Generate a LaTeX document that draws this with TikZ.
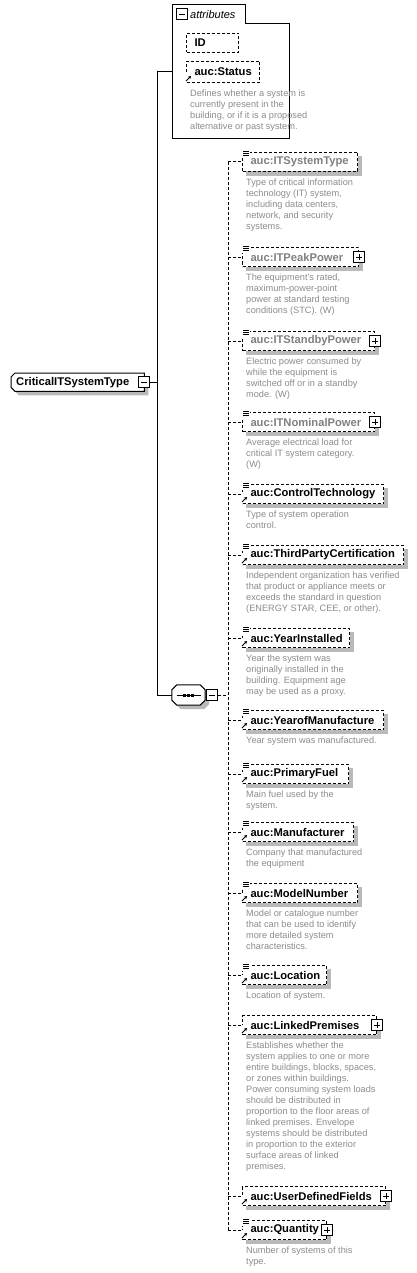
\documentclass[tikz,border=0pt]{standalone}
\usepackage{fontspec}
\setmainfont{Liberation Sans}
\usepackage{tikz}
\usetikzlibrary{arrows.meta,positioning,calc,backgrounds}
\hyphenpenalty=10000
\exhyphenpenalty=10000
\definecolor{shadowgray}{RGB}{185,185,185}
\definecolor{descgray}{RGB}{140,140,140}
\definecolor{namegray}{RGB}{128,128,128}
\tikzset{
  elem/.style={draw, dash pattern=on 3pt off 2pt, line width=1pt, fill=white,
               anchor=north west, minimum height=19pt, inner xsep=8pt, inner ysep=0pt,
               align=left, font=\fontsize{11.2}{13}\selectfont\bfseries},
  local/.style={elem, text=namegray},
  desc/.style={align=left, inner sep=0pt, anchor=north west, text=descgray,
               font=\fontsize{9.2}{11}\selectfont},
  rootbox/.style={anchor=north west, inner xsep=5pt, inner ysep=0pt, align=left,
               font=\fontsize{11.2}{13}\selectfont\bfseries},
  seqbox/.style={inner sep=0pt},
  dropfill/.style={fill=shadowgray},
  group/.style={draw, line width=1pt, fill=white, anchor=north west, inner sep=0pt},
  tab/.style={fill=white, inner sep=0pt},
  minusbox/.style={draw, line width=1pt, fill=white, minimum size=11pt, inner sep=0pt,
               path picture={\draw[line width=1pt] ([xshift=2.5pt]path picture bounding box.west)
                 -- ([xshift=-2.5pt]path picture bounding box.east);}},
  plusbox/.style={draw, line width=1pt, fill=white, minimum size=11pt, inner sep=0pt,
               path picture={\draw[line width=1pt] ([xshift=2.5pt]path picture bounding box.west)
                 -- ([xshift=-2.5pt]path picture bounding box.east)
                 ([yshift=-2.5pt]path picture bounding box.north)
                 -- ([yshift=2.5pt]path picture bounding box.south);}},
  conn/.style={line width=1pt},
  dconn/.style={line width=1pt, dash pattern=on 3pt off 2pt}
}

\begin{document}
\begin{tikzpicture}[x=1pt,y=-1pt]
  \path[use as bounding box] (0,0) rectangle (417,1273);

  % attributes
  \node[group, minimum width=117pt, minimum height=115pt] (attrs) at (172,23) {};
  \node[tab, anchor=south west, minimum width=73pt, minimum height=19pt] (attrtab) at ([yshift=-1pt]attrs.north west) {};
  \draw[conn] (attrtab.south west) |- (attrtab.north east) -- (attrtab.south east);
  \node[minusbox, right=4pt of attrtab.west] (attrminus) {};
  \node[right=2pt of attrminus, inner sep=0pt, font=\fontsize{11}{13}\selectfont\itshape] (attrlabel) {attributes};
  \node[elem, text width=36pt] (id) at (186,33) {ID};
  \node[elem, text width=57pt, minimum height=21pt] (status) at (186,61) {auc:Status};
  \node[desc, below right=7pt and 4pt of status.south west] (statusdesc)
    {Defines whether a system is\\currently present in the\\building, or if it is a proposed\\alternative or past system.};

  % root and sequence
  \node[rootbox, text width=123pt, minimum height=18pt] (root) at (11,373) {CriticalITSystemType};
  \node[minusbox] (rootminus) at (root.east) {};
  \node[seqbox, minimum width=33pt, minimum height=20pt] (seq) at (188.5,695) {};
  \node[minusbox, right=1pt of seq.east] (seqminus) {};

  % child elements
  \node[local, text width=99pt] (systype) at (242,152) {auc:ITSystemType};
  \node[desc, below right=7pt and 4pt of systype.south west] (systypedesc)
    {Type of critical information\\technology (IT) system,\\including data centers,\\network, and security\\systems.};
  \node[local, text width=100pt] (peak) at (242,247) {auc:ITPeakPower};
  \node[desc, below right=7pt and 4pt of peak.south west] (peakdesc)
    {The equipment's rated,\\maximum-power-point\\power at standard testing\\conditions (STC). (W)};
  \node[local, text width=116pt] (standby) at (242,331) {auc:ITStandbyPower};
  \node[desc, below right=7pt and 4pt of standby.south west] (standbydesc)
    {Electric power consumed by\\while the equipment is\\switched off or in a standby\\mode. (W)};
  \node[local, text width=116pt] (nominal) at (242,412) {auc:ITNominalPower};
  \node[desc, below right=7pt and 4pt of nominal.south west] (nominaldesc)
    {Average electrical load for\\critical IT system category.\\(W)};
  \node[elem, text width=125pt] (control) at (242,484) {auc:ControlTechnology};
  \node[desc, below right=7pt and 4pt of control.south west] (controldesc)
    {Type of system operation\\control.};
  \node[elem, text width=145pt] (third) at (242,545) {auc:ThirdPartyCertification};
  \node[desc, below right=7pt and 4pt of third.south west] (thirddesc)
    {Independent organization has verified\\that product or appliance meets or\\exceeds the standard in question\\(ENERGY STAR, CEE, or other).};
  \node[elem, text width=91pt] (yearinst) at (242,628) {auc:YearInstalled};
  \node[desc, below right=7pt and 4pt of yearinst.south west] (yearinstdesc)
    {Year the system was\\originally installed in the\\building. Equipment age\\may be used as a proxy.};
  \node[elem, text width=125pt] (yearmanuf) at (242,710) {auc:YearofManufacture};
  \node[desc, below right=7pt and 4pt of yearmanuf.south west] (yearmanufdesc)
    {Year system was manufactured.};
  \node[elem, text width=90pt] (fuel) at (242,764) {auc:PrimaryFuel};
  \node[desc, below right=7pt and 4pt of fuel.south west] (fueldesc)
    {Main fuel used by the\\system.};
  \node[elem, text width=95pt] (manuf) at (242,822) {auc:Manufacturer};
  \node[desc, below right=7pt and 4pt of manuf.south west] (manufdesc)
    {Company that manufactured\\the equipment};
  \node[elem, text width=99pt] (model) at (242,883) {auc:ModelNumber};
  \node[desc, below right=7pt and 4pt of model.south west] (modeldesc)
    {Model or catalogue number\\that can be used to identify\\more detailed system\\characteristics.};
  \node[elem, text width=68pt] (location) at (242,965) {auc:Location};
  \node[desc, below right=7pt and 4pt of location.south west] (locationdesc)
    {Location of system.};
  \node[elem, text width=118pt] (linked) at (242,1015) {auc:LinkedPremises};
  \node[desc, below right=7pt and 4pt of linked.south west] (linkeddesc)
    {Establishes whether the\\system applies to one or more\\entire buildings, blocks, spaces,\\or zones within buildings.\\Power consuming system loads\\should be distributed in\\proportion to the floor areas of\\linked premises. Envelope\\systems should be distributed\\in proportion to the exterior\\surface areas of linked\\premises.};
  \node[elem, text width=127pt] (userdef) at (242,1186) {auc:UserDefinedFields};
  \node[elem, text width=68pt] (quantity) at (242,1220) {auc:Quantity};
  \node[desc, below right=7pt and 4pt of quantity.south west] (quantitydesc)
    {Number of systems of this\\type.};

  % plus boxes
  \foreach \n in {peak,standby,nominal,linked,userdef,quantity}
    \node[plusbox] (\n-plus) at (\n.east) {};

  % icons
  \foreach \n in {systype,peak,standby,nominal,control,third,yearinst,yearmanuf,fuel,manuf,model,location,quantity} {
    \fill[white] ([xshift=-1pt,yshift=2pt]\n.north west) rectangle ++(9,8);
    \foreach \dy in {1,-1,-3}
      \draw[line width=0.8pt] ([xshift=1pt,yshift=\dy pt]\n.north west) -- ++(6,0);
  }
  \foreach \n in {status,control,third,yearinst,yearmanuf,fuel,manuf,model,location,linked,userdef,quantity} {
    \fill[white] ([xshift=-1pt,yshift=1pt]\n.south west) rectangle ++(8,-9);
    \draw[line width=1pt, -{Stealth[length=3pt,width=3.5pt]}] ([yshift=2pt]\n.south west) -- ++(5,-5);
  }

  % connectors
  \coordinate (trunk) at (157,0);
  \coordinate (bus) at (228,0);
  \draw[conn] (rootminus.east) -- (trunk |- rootminus.east);
  \draw[conn] (attrs.west |- status.west) -| (trunk |- seq.west) -- (seq.west);
  \draw[dconn] (seqminus.east) -- (bus |- seqminus.east);
  \draw[dconn] (bus |- systype.west) -- (bus |- quantity.west);
  \foreach \n in {systype,peak,standby,nominal,control,third,yearinst,yearmanuf,fuel,manuf,model,location,linked,userdef,quantity}
    \draw[dconn] (bus |- \n.west) -- (\n.west);

  % shadows and outlines behind the nodes
  \begin{scope}[on background layer]
    \fill[white] (0,0) rectangle (417,1273);
    \foreach \n in {id,status,systype,peak,standby,nominal,control,third,yearinst,yearmanuf,fuel,manuf,model,location,linked,userdef,quantity}
      \path[dropfill] ([xshift=4pt,yshift=-4pt]\n.north west) rectangle ([xshift=4pt,yshift=-4pt]\n.south east);
    \path[dropfill] ($(root.north west)+(8,4)$) -- ($(root.north east)+(4,4)$) -- ($(root.south east)+(4,4)$)
      -- ($(root.south west)+(8,4)$) -- ($(root.south west)+(4,0)$) -- ($(root.north west)+(4,8)$) -- cycle;
    \filldraw[conn, fill=white] ($(root.north west)+(4,0)$) -- (root.north east) -- (root.south east)
      -- ($(root.south west)+(4,0)$) -- ($(root.south west)+(0,-4)$) -- ($(root.north west)+(0,4)$) -- cycle;
    \path[dropfill] ($(seq.north west)+(9,4)$) -- ($(seq.north east)+(-1,4)$) -- ($(seq.north east)+(4,9)$)
      -- ($(seq.south east)+(4,-1)$) -- ($(seq.south east)+(-1,4)$) -- ($(seq.south west)+(9,4)$)
      -- ($(seq.south west)+(4,-1)$) -- ($(seq.north west)+(4,9)$) -- cycle;
    \filldraw[conn, fill=white] ($(seq.north west)+(5,0)$) -- ($(seq.north east)+(-5,0)$) -- ($(seq.north east)+(0,5)$)
      -- ($(seq.south east)+(0,-5)$) -- ($(seq.south east)+(-5,0)$) -- ($(seq.south west)+(5,0)$)
      -- ($(seq.south west)+(0,-5)$) -- ($(seq.north west)+(0,5)$) -- cycle;
    \draw[conn] ([xshift=-12pt]seq.center) -- ([xshift=12pt]seq.center);
    \foreach \dx in {-4,0,4}
      \fill ([xshift=\dx pt]seq.center) ++(-1.5,-1.5) rectangle ++(3,3);
  \end{scope}
\end{tikzpicture}
\end{document}
